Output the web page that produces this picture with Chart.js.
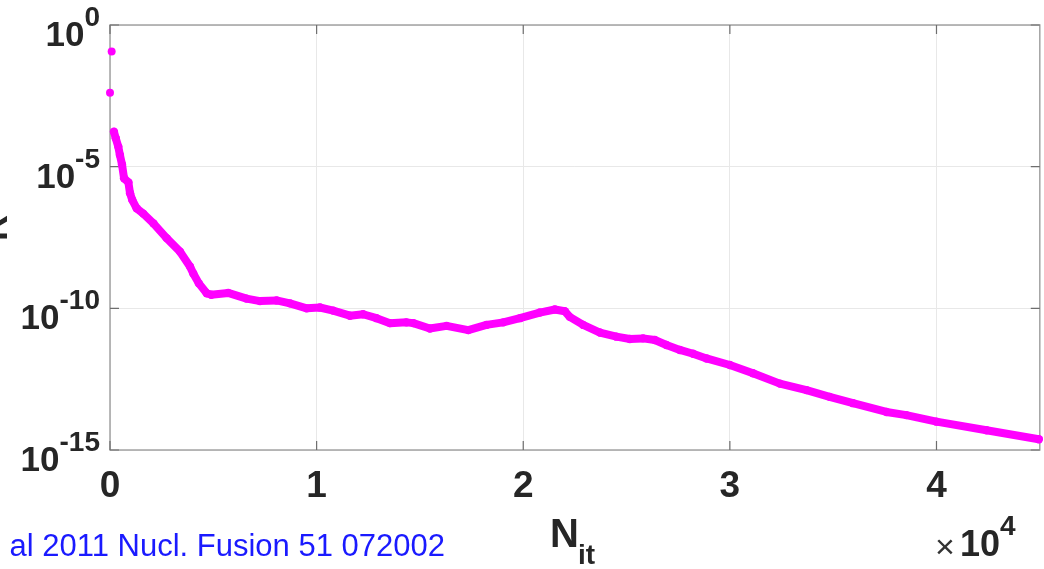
<!DOCTYPE html>
<html>
<head>
<meta charset="utf-8">
<script src="https://cdn.jsdelivr.net/npm/chart.js@4.4.1/dist/chart.umd.min.js"></script>
<style>
  html, body { margin: 0; padding: 0; background: #ffffff; }
  #wrap { width: 1044px; height: 569px; position: relative; }
</style>
</head>
<body>
<div id="wrap"><canvas id="c" width="1044" height="569"></canvas></div>
<script>
// ---- data ----
const startIter = [80, 0];
const startResidual = [1.15e-1, 4.1e-3];

const iterations = [190, 280, 400, 480, 580, 680, 890, 970, 1080, 1290, 1610, 2100, 2740, 3390, 3870, 4030,
  4300, 4680, 4900, 5720, 6610, 7260, 8060, 8710, 9520, 10160, 10800, 11610, 12250, 12900, 13550, 14350,
  14680, 15480, 16290, 17340, 18220, 19030, 19840, 20800, 21530, 22010, 22250, 22900, 23710, 24510, 25160,
  25800, 26370, 26930, 27580, 28220, 28870, 30000, 31120, 32420, 33710, 34830, 35960, 37580, 38540, 40000,
  42420, 44950];
const residuals = [1.7e-4, 1.0e-4, 5.1e-5, 2.6e-5, 1.2e-5, 3.9e-6, 2.8e-6, 1.15e-6, 6.6e-7, 3.4e-7, 2.2e-7,
  1.0e-7, 3.0e-8, 1.0e-8, 3.0e-9, 1.7e-9, 7.6e-10, 3.4e-10, 3.0e-10, 3.5e-10, 2.2e-10, 1.8e-10, 1.9e-10,
  1.5e-10, 1.0e-10, 1.07e-10, 8.3e-11, 5.5e-11, 6.2e-11, 4.5e-11, 3.0e-11, 3.2e-11, 3.0e-11, 1.95e-11,
  2.4e-11, 1.7e-11, 2.6e-11, 3.2e-11, 4.5e-11, 7.1e-11, 9.1e-11, 7.9e-11, 5.0e-11, 2.6e-11, 1.4e-11,
  1.0e-11, 8.3e-12, 8.7e-12, 7.6e-12, 5.1e-12, 3.4e-12, 2.5e-12, 1.7e-12, 1.0e-12, 5.1e-13, 2.2e-13,
  1.3e-13, 7.5e-14, 4.5e-14, 2.2e-14, 1.7e-14, 1.0e-14, 5.0e-15, 2.4e-15];

const xTicks = [0, 10000, 20000, 30000, 40000];
const xTickLabels = ['0', '1', '2', '3', '4'];
const yTicks = [1e-15, 1e-10, 1e-5, 1e0];
const yExponents = ['-15', '-10', '-5', '0'];
const xMin = 0, xMax = 45000, yMin = 1e-15, yMax = 1e0;
const xTitle = 'N', xTitleSub = 'it';
const yTitle = 'R';
const xMultiplier = '4';
const citation = 'al 2011 Nucl. Fusion 51 072002';

const MAGENTA = '#ff00ff';
const TEXT = '#262626';
const FONT = '"Liberation Sans", Arial, sans-serif';

const toPts = (xs, ys) => xs.map((x, i) => ({ x: x, y: ys[i] }));

const decor = {
  id: 'decor',
  beforeDatasetsDraw(chart) {
    const ctx = chart.ctx, a = chart.chartArea, xs = chart.scales.x, ys = chart.scales.y;
    ctx.save();
    ctx.strokeStyle = '#a3a3a3';
    ctx.lineWidth = 1.5;
    ctx.strokeRect(a.left, a.top, a.right - a.left, a.bottom - a.top);
    // inner tick marks
    ctx.strokeStyle = '#6e6e6e';
    ctx.lineWidth = 1.2;
    const tl = 9;
    xTicks.forEach(v => {
      const px = xs.getPixelForValue(v);
      ctx.beginPath();
      ctx.moveTo(px, a.bottom); ctx.lineTo(px, a.bottom - tl);
      ctx.moveTo(px, a.top); ctx.lineTo(px, a.top + tl);
      ctx.stroke();
    });
    yTicks.forEach(v => {
      const py = ys.getPixelForValue(v);
      ctx.beginPath();
      ctx.moveTo(a.left, py); ctx.lineTo(a.left + tl, py);
      ctx.moveTo(a.right, py); ctx.lineTo(a.right - tl, py);
      ctx.stroke();
    });
    ctx.restore();
  },
  afterDraw(chart) {
    const ctx = chart.ctx, a = chart.chartArea, xs = chart.scales.x, ys = chart.scales.y;
    ctx.save();
    ctx.fillStyle = TEXT;
    // y tick labels: 10^e
    yTicks.forEach((v, i) => {
      const py = ys.getPixelForValue(v);
      const right = a.left - 10;
      ctx.font = 'bold 28px ' + FONT;
      const supW = ctx.measureText(yExponents[i]).width;
      ctx.textAlign = 'left';
      ctx.textBaseline = 'alphabetic';
      ctx.fillText(yExponents[i], right - supW, py + 1);
      ctx.font = 'bold 35px ' + FONT;
      ctx.textAlign = 'right';
      ctx.fillText('10', right - supW, py + 21);
    });
    // x tick labels
    ctx.font = 'bold 37px ' + FONT;
    ctx.textAlign = 'center';
    ctx.textBaseline = 'alphabetic';
    xTicks.forEach((v, i) => {
      ctx.fillText(xTickLabels[i], xs.getPixelForValue(v), a.bottom + 47);
    });
    // x title N_it
    ctx.textAlign = 'left';
    ctx.font = 'bold 40px ' + FONT;
    const nW = ctx.measureText(xTitle).width;
    ctx.fillText(xTitle, 550, 547);
    ctx.font = 'bold 28px ' + FONT;
    ctx.fillText(xTitleSub, 549 + nW, 564);
    // x multiplier  ×10^4
    ctx.font = '34px ' + FONT;
    ctx.fillStyle = '#333333';
    ctx.fillText('\u00d7', 935, 558);
    ctx.fillStyle = TEXT;
    ctx.font = 'bold 36px ' + FONT;
    ctx.fillText('10', 960, 556);
    ctx.font = 'bold 28px ' + FONT;
    ctx.fillText(xMultiplier, 1000, 535);
    // y title (mostly cut off at the left edge)
    ctx.save();
    ctx.translate(7, 228);
    ctx.rotate(-Math.PI / 2);
    ctx.font = 'bold 36px ' + FONT;
    ctx.textAlign = 'center';
    ctx.textBaseline = 'alphabetic';
    ctx.fillText(yTitle, 0, 0);
    ctx.restore();
    // citation
    ctx.fillStyle = '#1a1aff';
    ctx.font = '31px ' + FONT;
    ctx.textAlign = 'right';
    ctx.fillText(citation, 445, 556);
    ctx.restore();
  }
};

new Chart(document.getElementById('c'), {
  type: 'scatter',
  data: {
    datasets: [
      {
        data: toPts(startIter, startResidual),
        backgroundColor: MAGENTA,
        borderColor: MAGENTA,
        pointRadius: 4,
        pointBorderWidth: 0,
        showLine: false,
        clip: false
      },
      {
        data: toPts(iterations, residuals),
        backgroundColor: MAGENTA,
        borderColor: MAGENTA,
        pointRadius: 4.2,
        pointBorderWidth: 0,
        borderWidth: 8,
        borderCapStyle: 'round',
        borderJoinStyle: 'round',
        showLine: true,
        tension: 0,
        clip: false
      }
    ]
  },
  options: {
    responsive: false,
    animation: false,
    devicePixelRatio: 1,
    layout: { padding: { left: 110, top: 25, right: 3, bottom: 119 } },
    plugins: { legend: { display: false }, tooltip: { enabled: false } },
    scales: {
      x: {
        type: 'linear',
        min: xMin, max: xMax,
        afterBuildTicks: s => { s.ticks = xTicks.map(v => ({ value: v })); },
        ticks: { display: false },
        grid: { color: '#e8e8e8', lineWidth: 1, drawTicks: false },
        border: { display: false }
      },
      y: {
        type: 'logarithmic',
        min: yMin, max: yMax,
        afterBuildTicks: s => { s.ticks = yTicks.map(v => ({ value: v })); },
        ticks: { display: false },
        grid: { color: '#e8e8e8', lineWidth: 1, drawTicks: false },
        border: { display: false }
      }
    }
  },
  plugins: [decor]
});
</script>
</body>
</html>
